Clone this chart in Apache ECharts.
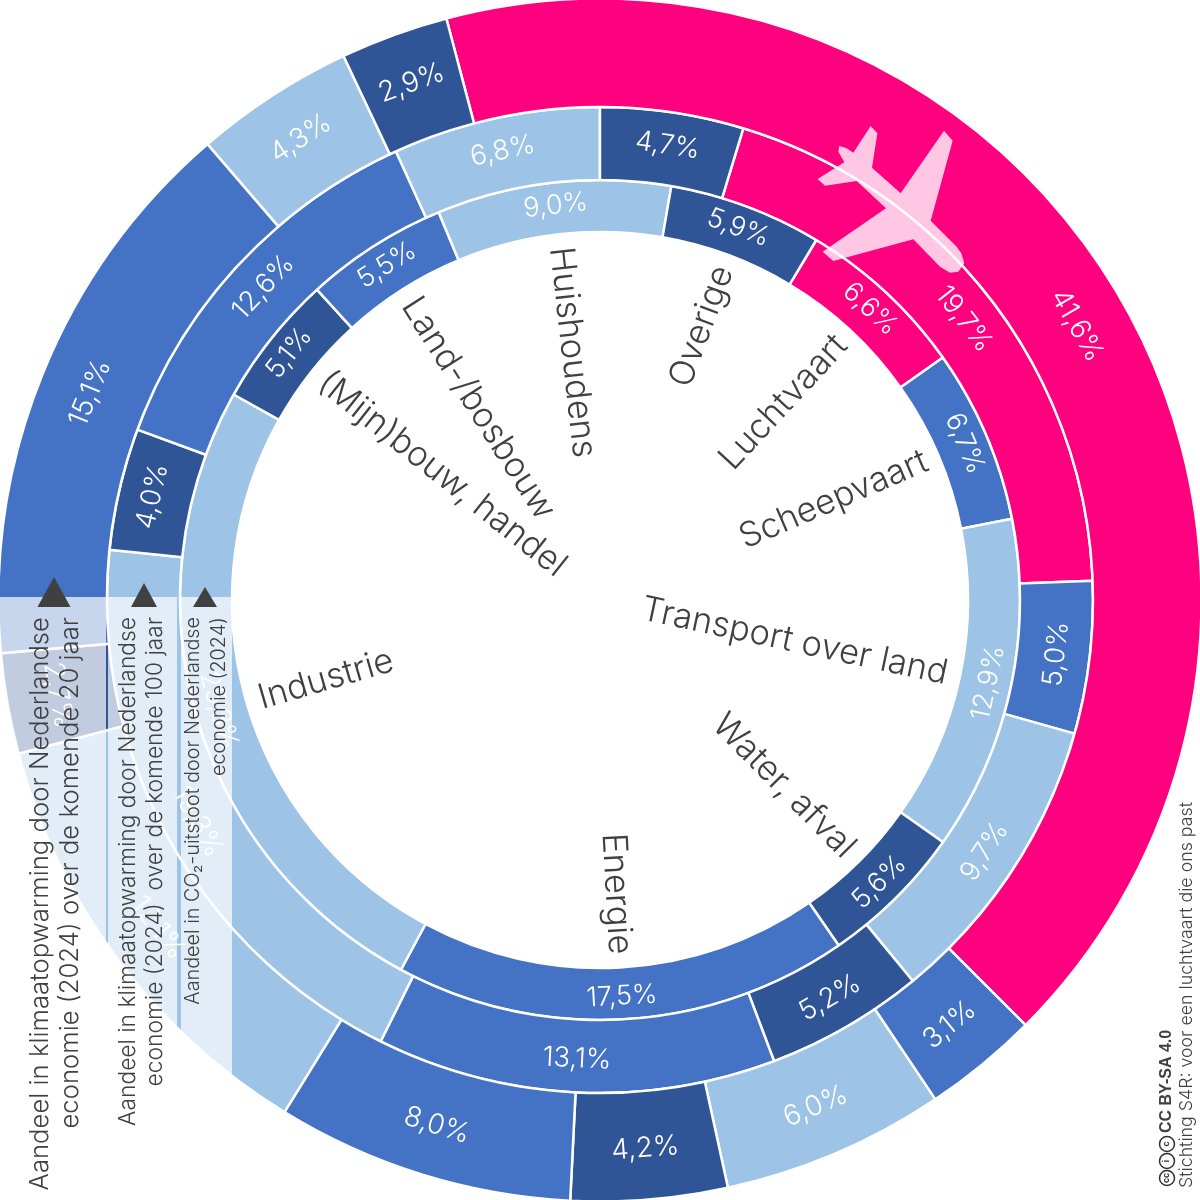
<!DOCTYPE html>
<html><head><meta charset="utf-8">
<style>html,body{margin:0;padding:0;background:#fff}#c{width:1200px;height:1200px}</style>
<script src="https://cdn.jsdelivr.net/npm/echarts@6/dist/echarts.min.js"></script>
</head><body><div id="c"></div>
<script>
const categories = ['Luchtvaart','Scheepvaart','Transport over land','Water, afval','Energie','Industrie','(Mijn)bouw, handel','Land-/bosbouw','Huishoudens','Overige'];
const co2Values   = [6.6,6.7,12.9,5.6,17.5,25.3,5.1,5.5,9.0,5.9];
const gwp100Values= [19.7,5.0,9.7,5.2,13.1,19.3,4.0,12.6,6.8,4.7];
const gwp20Values = [41.6,3.1,6.0,4.2,8.0,12.1,2.7,15.1,4.3,2.9];
const sliceColors = ['#ff007f','#4472c4','#9dc3e6','#2f5597','#4472c4','#9dc3e6','#2f5597','#4472c4','#9dc3e6','#2f5597'];
const columnTitles = [
 'Aandeel in klimaatopwarming door Nederlandse\neconomie (2024) over de komende 20 jaar',
 'Aandeel in klimaatopwarming door Nederlandse\neconomie (2024)  over de komende 100 jaar',
 'Aandeel in CO₂-uitstoot door Nederlandse\neconomie (2024)'];
const creditLine = 'Stichting S4R: voor een luchtvaart die ons past';
const licenceLine = 'CC BY-SA 4.0';

const FONT = 'Inter';
const cx = 600, cy = 600;
function ring(values, r0, r1, startAngle, size){
  return {type:'pie', center:[cx,cy], radius:[r0,r1], startAngle, clockwise:true, silent:true, animation:false,
    avoidLabelOverlap:false, minAngle:0,
    itemStyle:{borderColor:'#fff',borderWidth:2.5},
    labelLine:{show:false},
    label:{show:true, position:'inside', rotate:'tangential', color:'#fff', fontFamily:FONT, fontWeight:300, fontSize:size,
      formatter:p=>p.value.toFixed(1).replace('.',',')+'%'},
    data:values.map((v,i)=>({name:categories[i],value:v,itemStyle:{color:sliceColors[i]}}))};
}
const g = [];
// semi-transparent columns
[[0,106],[108,177],[181,232]].forEach(c=>g.push({type:'rect',z:50,silent:true,shape:{x:c[0],y:597,width:c[1]-c[0],height:603},style:{fill:'rgba(255,255,255,0.7)'}}));
// triangles
[[54,577,33],[144,583,26],[205,587,24]].forEach(t=>g.push({type:'polygon',z:60,silent:true,shape:{points:[[t[0],t[1]],[t[0]-t[2]/2,607],[t[0]+t[2]/2,607]]},style:{fill:'#404040'}}));
// column titles
[[55,25.7,30],[142,22.8,27],[206,19.8,26]].forEach((c,i)=>g.push({type:'text',z:60,silent:true,x:c[0],y:617,rotation:Math.PI/2,
  style:{text:columnTitles[i],align:'right',verticalAlign:'middle',fontFamily:FONT,fontWeight:300,fontSize:c[1],lineHeight:c[2],fill:'#404040'}}));
// category labels, placed from the inner ring's slices
const total = co2Values.reduce((a,b)=>a+b,0);
let acc = 31;
categories.forEach((name,i)=>{
  const span = co2Values[i]/total*360, th = acc+span/2; acc += span;
  const rad = th*Math.PI/180, right = th%360 < 180 , R = 355;
  g.push({type:'text',z:60,silent:true,x:cx+R*Math.sin(rad),y:cy-R*Math.cos(rad),
    rotation:-( (right?th-90:th-270) )*Math.PI/180,
    style:{text:name,align:right?'right':'left',verticalAlign:'middle',fontFamily:FONT,fontWeight:300,fontSize:34.5,fill:'#404040'}});
});
// aeroplane (white with alpha so ring borders stay visible)
const planeOutline = [[272,78],[292,100],[276,203],[362,280],[492,92],[518,122],[452,362],[530,440],[545,462],[553,490],[535,515],[510,518],[480,500],[400,418],[160,483],[128,455],[318,325],[230,243],[135,257],[113,237],[193,187],[175,155],[178,138],[200,145],[220,158]];
g.push({type:'polygon',z:40,silent:true,shape:{points:planeOutline.map(p=>[780+p[0]/3,100+p[1]/3])},style:{fill:'rgba(255,255,255,0.78)'}});
// credit
g.push({type:'text',z:60,silent:true,x:1187,y:1188,rotation:Math.PI/2,style:{text:creditLine,align:'left',verticalAlign:'middle',fontFamily:FONT,fontWeight:300,fontSize:17.8,fill:'#404040'}});
g.push({type:'text',z:60,silent:true,x:1167,y:1133,rotation:Math.PI/2,style:{text:licenceLine,align:'left',verticalAlign:'middle',fontFamily:'Liberation Sans',fontWeight:700,fontSize:16,fill:'#404040'}});
[1178,1161,1144].forEach((y,i)=>{
  g.push({type:'circle',z:60,silent:true,shape:{cx:1167,cy:y,r:7.5},style:{fill:'#fff',stroke:'#303030',lineWidth:1.5}});
  g.push({type:'text',z:61,silent:true,x:1167,y:y,rotation:Math.PI/2,style:{text:['cc','i','c'][i],align:'center',verticalAlign:'middle',fontFamily:'Liberation Sans',fontWeight:700,fontSize:9,fill:'#303030'}});
});
const chart = echarts.init(document.getElementById('c'),null,{renderer:'canvas'});
chart.setOption({animation:false,backgroundColor:'#fff',
  series:[ring(co2Values,368,420,90-31,27),ring(gwp100Values,420,493,90-16.9,27.5),ring(gwp20Values,493,601.5,90+14.8,28)],
  graphic:{elements:g}});
</script></body></html>
